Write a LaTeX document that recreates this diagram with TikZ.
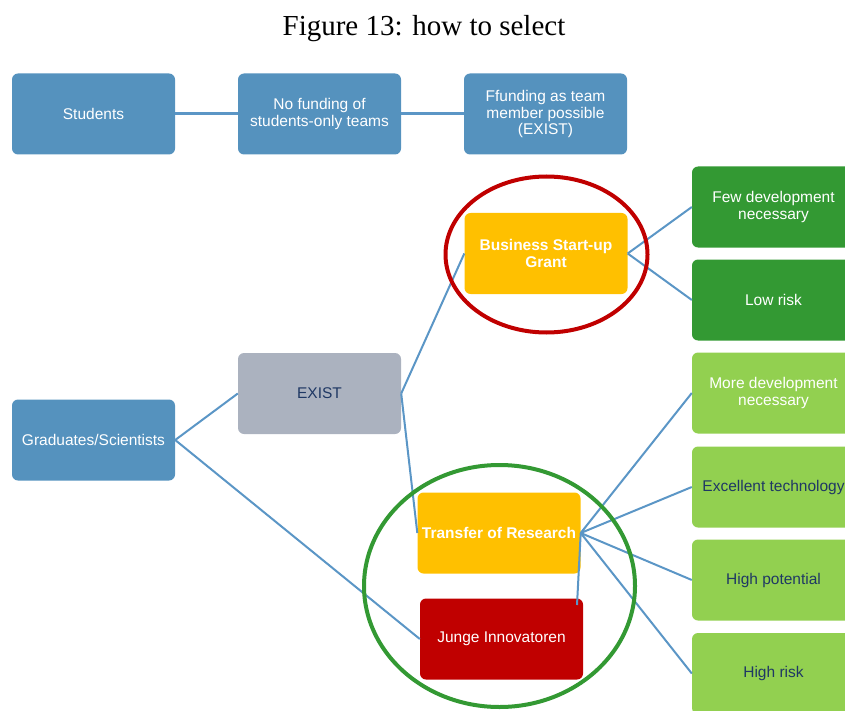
\documentclass[tikz,border=0pt]{standalone}
\usepackage{fontspec}
\setmainfont{Liberation Serif}
\newfontfamily\arialf{Liberation Sans}
\definecolor{bluebox}{HTML}{5592BE}
\definecolor{greybox}{HTML}{ABB2BF}
\definecolor{orangebox}{HTML}{FFC000}
\definecolor{redbox}{HTML}{C00000}
\definecolor{dgreen}{HTML}{339933}
\definecolor{lgreen}{HTML}{92D050}
\definecolor{navytext}{HTML}{1F3864}
\definecolor{linkblue}{HTML}{5B96C6}
\begin{document}
\begin{tikzpicture}[x=1pt,y=-1pt,
  box/.style={rounded corners=6pt, minimum width=163pt, minimum height=81pt,
    align=center, inner sep=2pt, text=white,
    font=\arialf\fontsize{15.5}{16.5}\selectfont},
  bluebx/.style={box, fill=bluebox},
  greybx/.style={box, fill=greybox, text=navytext},
  orangebx/.style={box, fill=orangebox, font=\arialf\bfseries\fontsize{15.5}{16.5}\selectfont},
  redbx/.style={box, fill=redbox},
  dgreenbx/.style={box, fill=dgreen},
  lgreenbx/.style={box, fill=lgreen, text=navytext},
  link/.style={draw=linkblue, line width=2pt},
  toplink/.style={draw=linkblue, line width=3pt},
  ring/.style={draw, line width=4pt}
]
\useasboundingbox (0,0) rectangle (845,711);

\node[font=\fontsize{29}{32}\selectfont] (title) at (424,29) {Figure 13: how to select};

% top row
\node[bluebx] (students) at (93.5,114) {Students};
\node[bluebx] (nofund) at (319.5,114) {No funding of\\students-only teams};
\node[bluebx] (ffund) at (545.5,114) {Ffunding as team\\member possible\\(EXIST)};

% main tree
\node[bluebx] (grad) at (93.5,440) {Graduates/Scientists};
\node[greybx] (exist) at (319.5,393.5) {EXIST};
\node[orangebx] (bsg) at (546,253.5) {Business Start-up\\Grant};
\node[orangebx] (tor) at (499,533) {Transfer of Research};
\node[redbx] (junge) at (501.5,639) {Junge Innovatoren};

% right column
\node[dgreenbx] (few) at (773.5,207) {Few development\\necessary};
\node[dgreenbx] (low) at (773.5,300) {Low risk};
\node[lgreenbx, text=white] (more) at (773.5,393) {More development\\necessary};
\node[lgreenbx] (excel) at (773.5,487) {Excellent technology};
\node[lgreenbx] (hpot) at (773.5,580) {High potential};
\node[lgreenbx] (hrisk) at (773.5,673.5) {High risk};

\coordinate (jungetop) at (577,605);

% connectors
\draw[toplink] (students.east) -- (nofund.west);
\draw[toplink] (nofund.east) -- (ffund.west);
\draw[link] (grad.east) -- (exist.west);
\draw[link] (grad.east) -- (junge.west);
\draw[link] (exist.east) -- (bsg.west);
\draw[link] (exist.east) -- (tor.west);
\draw[link] (bsg.east) -- (few.west);
\draw[link] (bsg.east) -- (low.west);
\draw[link] (tor.east) -- (more.west);
\draw[link] (tor.east) -- (excel.west);
\draw[link] (tor.east) -- (hpot.west);
\draw[link] (tor.east) -- (hrisk.west);
\draw[link] (tor.east) -- (jungetop);

% highlight rings
\draw[ring, draw=redbox] (546.5,254.5) ellipse [x radius=101, y radius=78];
\draw[ring, draw=dgreen] (499.5,586) ellipse [x radius=135.5, y radius=121];
\end{tikzpicture}
\end{document}
